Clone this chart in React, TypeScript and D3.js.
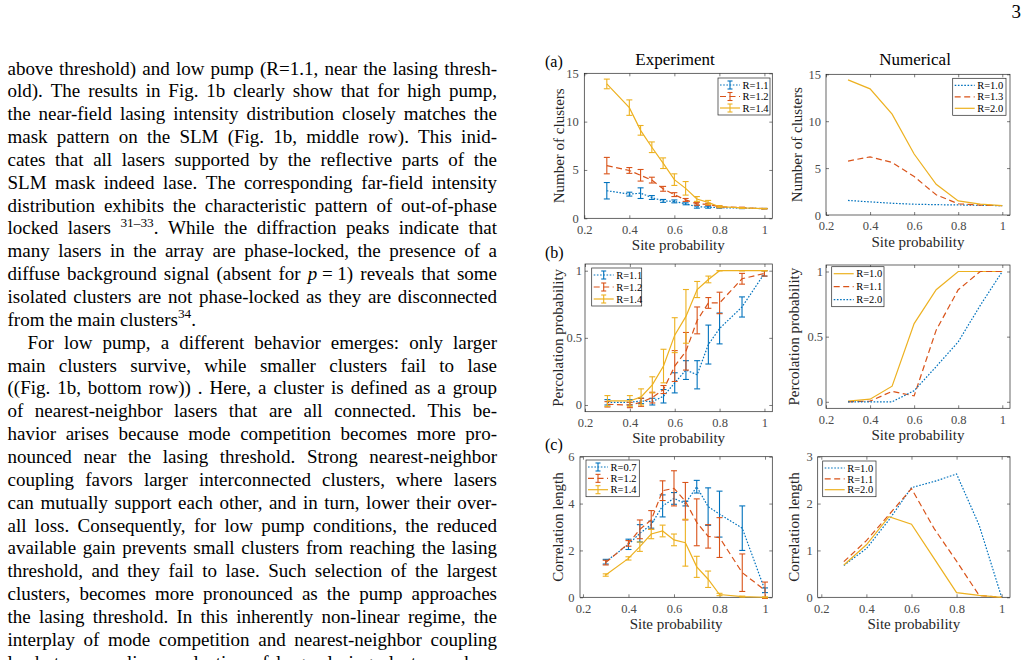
import { useEffect, useRef } from "react"
import * as d3 from "d3"

const W = 1028
const H = 660
const SERIF = "'Liberation Serif', 'Times New Roman', Times, serif"
const BLUE = "#0072BD"
const RED = "#D95319"
const YELLOW = "#EDB120"
const AXIS = "#262626"
const DOTTED = "1.6,1.6"
const DASHED = "6,3.5"

// site probabilities
const xExp = [0.3, 0.4, 0.45, 0.5, 0.55, 0.6, 0.65, 0.7, 0.75, 0.8, 0.9, 1.0]
const xNum = [0.3, 0.4, 0.5, 0.6, 0.7, 0.8, 0.9, 1.0]
const xTicks = [0.2, 0.4, 0.6, 0.8, 1]

// (a) number of clusters, experiment
const clR11 = [2.85, 2.5, 2.6, 2.15, 1.8, 1.75, 1.5, 1.2, 1.15, 1.1, 1.05, 1.0]
const clR11Err = [0.85, 0.2, 0.55, 0.2, 0.15, 0.15, 0.1, 0.15, 0.1, 0.05, 0.05, 0.02]
const clR12 = [5.45, 4.95, 4.45, 3.95, 3.05, 2.45, 1.9, 1.5, 1.45, 1.2, 1.1, 1.0]
const clR12Err = [0.85, 0.3, 0.6, 0.3, 0.25, 0.2, 0.15, 0.15, 0.1, 0.1, 0.05, 0.02]
const clR14 = [13.9, 11.45, 9.1, 7.35, 5.7, 4.0, 3.1, 2.0, 1.65, 1.2, 1.07, 1.0]
const clR14Err = [0.5, 0.8, 0.5, 0.55, 0.55, 0.6, 0.7, 0.25, 0.2, 0.1, 0.05, 0.02]

// (a) number of clusters, numerical
const numClR10 = [1.55, 1.4, 1.25, 1.15, 1.1, 1.07, 1.03, 1.0]
const numClR13 = [5.75, 6.2, 5.6, 4.1, 2.15, 1.2, 1.05, 1.0]
const numClR20 = [14.4, 13.45, 10.75, 6.5, 3.27, 1.5, 1.15, 1.0]

// (b) percolation probability, experiment
const pcR11 = [0.02, 0.02, 0.03, 0.025, 0.065, 0.165, 0.26, 0.225, 0.45, 0.57, 0.73, 0.98]
const pcR11Err = [0.02, 0.02, 0.02, 0.025, 0.05, 0.075, 0.07, 0.105, 0.145, 0.115, 0.075, 0.02]
const pcR12 = [0.005, 0.0, 0.02, 0.055, 0.115, 0.29, 0.4, 0.63, 0.76, 0.76, 0.94, 0.98]
const pcR12Err = [0.02, 0.02, 0.03, 0.04, 0.03, 0.115, 0.14, 0.1, 0.04, 0.08, 0.04, 0.02]
const pcR14 = [0.03, 0.03, 0.06, 0.15, 0.29, 0.52, 0.66, 0.86, 0.935, 1.0, 1.0, 1.0]
const pcR14Err = [0.04, 0.04, 0.06, 0.06, 0.125, 0.13, 0.2, 0.06, 0.025, 0, 0, 0]

// (b) percolation probability, numerical
const numPcR10 = [0.005, 0.02, 0.12, 0.6, 0.86, 1.0, 1.0, 1.0]
const numPcR11 = [0, 0.005, 0.08, 0.045, 0.55, 0.86, 1.0, 1.0]
const numPcR20 = [0, 0, 0, 0.085, 0.27, 0.46, 0.74, 1.0]

// (c) correlation length, experiment
const clenR07 = [1.52, 2.26, 2.73, 3.1, 3.9, 4.22, 4.0, 4.72, 3.87, 3.55, 2.95, 0.3]
const clenR07Err = [0.1, 0.22, 0.37, 0.15, 0.47, 0.25, 0.1, 0.27, 0.8, 0.98, 0.95, 0.1]
const clenR12 = [1.48, 2.3, 2.9, 3.3, 4.55, 4.65, 4.1, 3.2, 2.6, 2.55, 1.05, 0.3]
const clenR12Err = [0.1, 0.12, 0.4, 0.4, 0.42, 0.75, 0.8, 1.0, 0.5, 0.85, 0.8, 0.35]
const clenR14 = [0.95, 1.66, 2.16, 2.7, 2.83, 2.45, 2.33, 1.3, 0.77, 0.12, 0.03, 0.0]
const clenR14Err = [0.05, 0.07, 0.2, 0.2, 0.25, 0.25, 1.0, 0.45, 0.35, 0.05, 0.02, 0.02]

// (c) correlation length, numerical
const numClenR10 = [0.68, 1.04, 1.65, 2.34, 2.47, 2.63, 1.54, 0]
const numClenR11 = [0.76, 1.21, 1.76, 2.32, 1.47, 0.77, 0.04, 0]
const numClenR20 = [0.69, 1.12, 1.72, 1.56, 0.83, 0.1, 0.04, 0]

// body text, one entry per typeset line; {..} superscript, [..] italic, ~ fixed space
const bodyLines = [
  "above threshold) and low pump (R=1.1, near the lasing thresh-",
  "old). The results in Fig. 1b clearly show that for high pump,",
  "the near-field lasing intensity distribution closely matches the",
  "mask pattern on the SLM (Fig. 1b, middle row). This inid-",
  "cates that all lasers supported by the reflective parts of the",
  "SLM mask indeed lase. The corresponding far-field intensity",
  "distribution exhibits the characteristic pattern of out-of-phase",
  "locked lasers {31–33}. While the diffraction peaks indicate that",
  "many lasers in the array are phase-locked, the presence of a",
  "diffuse background signal (absent for [p]~=~1) reveals that some",
  "isolated clusters are not phase-locked as they are disconnected",
  "from the main clusters{34}.",
  "For low pump, a different behavior emerges: only larger",
  "main clusters survive, while smaller clusters fail to lase",
  "((Fig. 1b, bottom row)) . Here, a cluster is defined as a group",
  "of nearest-neighbor lasers that are all connected. This be-",
  "havior arises because mode competition becomes more pro-",
  "nounced near the lasing threshold. Strong nearest-neighbor",
  "coupling favors larger interconnected clusters, where lasers",
  "can mutually support each other, and in turn, lower their over-",
  "all loss. Consequently, for low pump conditions, the reduced",
  "available gain prevents small clusters from reaching the lasing",
  "threshold, and they fail to lase. Such selection of the largest",
  "clusters, becomes more pronounced as the pump approaches",
  "the lasing threshold. In this inherently non-linear regime, the",
  "interplay of mode competition and nearest-neighbor coupling",
  "leads to a non-linear selection of larger lasing clusters, where",
]
const raggedLines = [11]
const indentLines = [12]

type Series = { y: number[]; err?: number[]; color: string; dash: string | null; label: string }
type Panel = {
  box: [number, number, number, number]
  xDom: [number, number]
  yDom: [number, number]
  yTicks: number[]
  yPad: number
  yLabel: string
  yLabelX: number
  x: number[]
  series: Series[]
  legend: [number, number, number, number]
  title?: [string, number]
  tag?: string
}

const panels: Panel[] = [
  {
    box: [584.3, 73.3, 772.3, 218.3],
    xDom: [0.2, 1.035],
    yDom: [0, 15],
    yTicks: [0, 5, 10, 15],
    yPad: 5.5,
    yLabel: "Number of clusters",
    yLabelX: 559,
    x: xExp,
    series: [
      { y: clR11, err: clR11Err, color: BLUE, dash: DOTTED, label: "R=1.1" },
      { y: clR12, err: clR12Err, color: RED, dash: DASHED, label: "R=1.2" },
      { y: clR14, err: clR14Err, color: YELLOW, dash: null, label: "R=1.4" },
    ],
    legend: [718, 78, 52, 37],
    title: ["Experiment", 675],
    tag: "(a)",
  },
  {
    box: [826, 74.3, 1010, 215],
    xDom: [0.2, 1.035],
    yDom: [0, 15],
    yTicks: [0, 5, 10, 15],
    yPad: 5,
    yLabel: "Number of clusters",
    yLabelX: 797,
    x: xNum,
    series: [
      { y: numClR10, color: BLUE, dash: DOTTED, label: "R=1.0" },
      { y: numClR13, color: RED, dash: DASHED, label: "R=1.3" },
      { y: numClR20, color: YELLOW, dash: null, label: "R=2.0" },
    ],
    legend: [952.7, 78.3, 53.3, 37],
    title: ["Numerical", 915],
  },
  {
    box: [585, 264, 772.3, 411.7],
    xDom: [0.2, 1.035],
    yDom: [-0.05, 1.05],
    yTicks: [0, 0.5, 1],
    yPad: 3,
    yLabel: "Percolation probability",
    yLabelX: 557.5,
    x: xExp,
    series: [
      { y: pcR11, err: pcR11Err, color: BLUE, dash: DOTTED, label: "R=1.1" },
      { y: pcR12, err: pcR12Err, color: RED, dash: DASHED, label: "R=1.2" },
      { y: pcR14, err: pcR14Err, color: YELLOW, dash: null, label: "R=1.4" },
    ],
    legend: [591.7, 268, 50, 38],
    tag: "(b)",
  },
  {
    box: [826, 265, 1010, 408.3],
    xDom: [0.2, 1.035],
    yDom: [-0.05, 1.05],
    yTicks: [0, 0.5, 1],
    yPad: 3,
    yLabel: "Percolation probability",
    yLabelX: 793.5,
    x: xNum,
    series: [
      { y: numPcR10, color: YELLOW, dash: null, label: "R=1.0" },
      { y: numPcR11, color: RED, dash: DASHED, label: "R=1.1" },
      { y: numPcR20, color: BLUE, dash: DOTTED, label: "R=2.0" },
    ],
    legend: [831.7, 266.7, 52.3, 40],
  },
  {
    box: [580, 456.7, 772.3, 597.3],
    xDom: [0.187, 1.032],
    yDom: [0, 6],
    yTicks: [0, 2, 4, 6],
    yPad: 5.5,
    yLabel: "Correlation length",
    yLabelX: 557.5,
    x: xExp,
    series: [
      { y: clenR07, err: clenR07Err, color: BLUE, dash: DOTTED, label: "R=0.7" },
      { y: clenR12, err: clenR12Err, color: RED, dash: DASHED, label: "R=1.2" },
      { y: clenR14, err: clenR14Err, color: YELLOW, dash: null, label: "R=1.4" },
    ],
    legend: [586, 460, 53.3, 36.7],
    tag: "(c)",
  },
  {
    box: [817.7, 456.7, 1010, 597.3],
    xDom: [0.184, 1.037],
    yDom: [0, 3],
    yTicks: [0, 1, 2, 3],
    yPad: 5,
    yLabel: "Correlation length",
    yLabelX: 794,
    x: xNum,
    series: [
      { y: numClenR10, color: BLUE, dash: DOTTED, label: "R=1.0" },
      { y: numClenR11, color: RED, dash: DASHED, label: "R=1.1" },
      { y: numClenR20, color: YELLOW, dash: null, label: "R=2.0" },
    ],
    legend: [822.7, 461, 53.3, 35.7],
  },
]

const FS = 19

function addSegments(t: any, w: string) {
  const parts = w.split(/(\{[^}]*\}|\[[^\]]*\])/).filter((s) => s.length)
  let raised = false
  parts.forEach((p) => {
    const ts = t.append("tspan")
    if (p.startsWith("{")) {
      ts.text(p.slice(1, -1)).attr("font-size", FS * 0.7).attr("dy", -7.5)
      raised = true
      return
    }
    if (p.startsWith("[")) ts.attr("font-style", "italic").text(p.slice(1, -1).replace(/~/g, "\u00a0"))
    else ts.text(p.replace(/~/g, "\u00a0"))
    if (raised) {
      ts.attr("dy", 7.5)
      raised = false
    }
  })
}

function drawText(svg: any) {
  const left = 7.5
  const right = 497
  const base0 = 74.5
  const lead = 22.85
  const g = svg.append("g").attr("font-family", SERIF).attr("font-size", FS).attr("fill", "#000")

  bodyLines.forEach((line, i) => {
    const y = base0 + i * lead
    const words = line.split(" ")
    const nodes = words.map((w) => {
      const t = g.append("text").attr("y", y)
      addSegments(t, w)
      return t
    })
    const widths = nodes.map((n: any) => (n.node() as SVGTextElement).getComputedTextLength())
    const x0 = left + (indentLines.includes(i) ? 20 : 0)
    const total = d3.sum(widths)
    const justify = !raggedLines.includes(i) && words.length > 1
    const gap = justify ? (right - x0 - total) / (words.length - 1) : FS * 0.25
    let x = x0
    nodes.forEach((n: any, k: number) => {
      n.attr("x", x)
      x += widths[k] + gap
    })
  })

  // page number
  svg
    .append("text")
    .attr("x", 1021)
    .attr("y", 18)
    .attr("text-anchor", "end")
    .attr("font-family", SERIF)
    .attr("font-size", FS)
    .text("3")
}

function drawPanel(svg: any, p: Panel) {
  const [x0, y0, x1, y1] = p.box
  const x = d3.scaleLinear().domain(p.xDom).range([x0, x1])
  const y = d3.scaleLinear().domain(p.yDom).range([y1, y0])
  const fmt = d3.format("~g")
  const g = svg.append("g").attr("font-family", SERIF)

  // axes, ticks pointing inward on all four sides
  const axes = [
    g.append("g").attr("transform", `translate(0,${y1})`)
      .call(d3.axisBottom(x).tickValues(xTicks).tickFormat(fmt as any).tickSizeInner(-3).tickSizeOuter(0).tickPadding(6.6)),
    g.append("g").attr("transform", `translate(0,${y0})`)
      .call(d3.axisTop(x).tickValues(xTicks).tickFormat(() => "").tickSizeInner(-3).tickSizeOuter(0)),
    g.append("g").attr("transform", `translate(${x0},0)`)
      .call(d3.axisLeft(y).tickValues(p.yTicks).tickFormat(fmt as any).tickSizeInner(-3).tickSizeOuter(0).tickPadding(p.yPad)),
    g.append("g").attr("transform", `translate(${x1},0)`)
      .call(d3.axisRight(y).tickValues(p.yTicks).tickFormat(() => "").tickSizeInner(-3).tickSizeOuter(0)),
  ]
  axes.forEach((a) => {
    a.select(".domain").remove()
    a.attr("font-family", SERIF).attr("font-size", 12.5).attr("color", AXIS)
    a.selectAll("line").attr("stroke-width", 0.6)
    a.selectAll("text").attr("fill", "#4a4a4a")
  })

  g.append("rect")
    .attr("x", x0)
    .attr("y", y0)
    .attr("width", x1 - x0)
    .attr("height", y1 - y0)
    .attr("fill", "none")
    .attr("stroke", AXIS)
    .attr("stroke-width", 0.7)

  // axis labels
  g.append("text")
    .attr("x", (x0 + x1) / 2)
    .attr("y", y1 + 31.5)
    .attr("text-anchor", "middle")
    .attr("font-size", 15)
    .attr("fill", "#262626")
    .text("Site probability")

  const cy = (y0 + y1) / 2
  g.append("text")
    .attr("x", p.yLabelX)
    .attr("y", cy)
    .attr("dy", "0.35em")
    .attr("transform", `rotate(-90,${p.yLabelX},${cy})`)
    .attr("text-anchor", "middle")
    .attr("font-size", 15)
    .attr("fill", "#262626")
    .text(p.yLabel)

  if (p.title) {
    g.append("text")
      .attr("x", p.title[1])
      .attr("y", 65)
      .attr("text-anchor", "middle")
      .attr("font-size", 17)
      .attr("fill", "#000")
      .text(p.title[0])
  }
  if (p.tag) {
    g.append("text").attr("x", 545).attr("y", y0 - 6.5).attr("font-size", 16).attr("fill", "#000").text(p.tag)
  }

  // curves and error bars
  p.series.forEach((s) => {
    const line = d3
      .line<number>()
      .x((_, i) => x(p.x[i]))
      .y((d) => y(d))
    g.append("path")
      .datum(s.y)
      .attr("d", line)
      .attr("fill", "none")
      .attr("stroke", s.color)
      .attr("stroke-width", 1.2)
      .attr("stroke-dasharray", s.dash)

    if (s.err) {
      const eb = g.append("g").attr("stroke", s.color).attr("stroke-width", 1.1)
      s.y.forEach((v, i) => {
        const cx = x(p.x[i])
        const lo = y(v - s.err![i])
        const hi = y(v + s.err![i])
        eb.append("line").attr("x1", cx).attr("x2", cx).attr("y1", lo).attr("y2", hi)
        eb.append("line").attr("x1", cx - 3).attr("x2", cx + 3).attr("y1", lo).attr("y2", lo)
        eb.append("line").attr("x1", cx - 3).attr("x2", cx + 3).attr("y1", hi).attr("y2", hi)
      })
    }
  })

  // legend
  const [lx, ly, lw, lh] = p.legend
  const lg = g.append("g")
  lg.append("rect")
    .attr("x", lx)
    .attr("y", ly)
    .attr("width", lw)
    .attr("height", lh)
    .attr("fill", "#fff")
    .attr("stroke", AXIS)
    .attr("stroke-width", 0.7)
  const step = (lh - 14) / 2
  p.series.forEach((s, i) => {
    const ry = ly + 7 + i * step
    lg.append("line")
      .attr("x1", lx + 2)
      .attr("x2", lx + 22)
      .attr("y1", ry)
      .attr("y2", ry)
      .attr("stroke", s.color)
      .attr("stroke-width", 1.2)
      .attr("stroke-dasharray", s.dash)
    if (s.err) {
      const mx = lx + 12
      lg.append("line").attr("x1", mx).attr("x2", mx).attr("y1", ry - 4).attr("y2", ry + 4).attr("stroke", s.color).attr("stroke-width", 1.1)
      lg.append("line").attr("x1", mx - 2.5).attr("x2", mx + 2.5).attr("y1", ry - 4).attr("y2", ry - 4).attr("stroke", s.color).attr("stroke-width", 1.1)
      lg.append("line").attr("x1", mx - 2.5).attr("x2", mx + 2.5).attr("y1", ry + 4).attr("y2", ry + 4).attr("stroke", s.color).attr("stroke-width", 1.1)
    }
    lg.append("text")
      .attr("x", lx + 24.5)
      .attr("y", ry)
      .attr("dy", "0.35em")
      .attr("font-size", 10.5)
      .attr("fill", "#000")
      .text(s.label)
  })
}

export default function App() {
  const svgRef = useRef<SVGSVGElement>(null)

  useEffect(() => {
    if (!svgRef.current) return
    document.body.style.margin = "0"
    const svg = d3.select(svgRef.current)
    svg.selectAll("*").remove()
    drawText(svg)
    panels.forEach((p) => drawPanel(svg, p))
  }, [])

  return <svg ref={svgRef} width={W} height={H} style={{ display: "block", background: "#fff" }} />
}
